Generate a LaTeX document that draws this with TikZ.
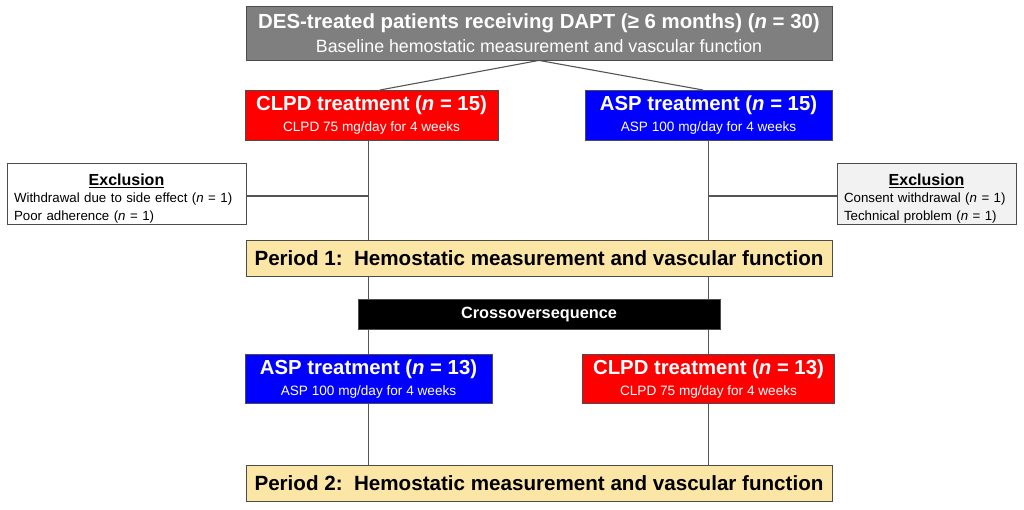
\documentclass[tikz,border=0pt]{standalone}
\usepackage{fontspec}
\setmainfont{Liberation Sans}
\usetikzlibrary{backgrounds}
\definecolor{boxgray}{HTML}{7F7F7F}
\definecolor{pyellow}{HTML}{FCE6A6}
\definecolor{lgray}{HTML}{F2F2F2}
\definecolor{lineg}{HTML}{555555}
\newcommand{\fs}[1]{\fontsize{#1}{#1}\selectfont}
\newcommand{\exhead}{\makebox[\linewidth]{\rule{0pt}{21.5pt}\fs{16}\bfseries\underline{Exclusion}}}
\tikzset{
  box/.style={draw=black!70, line width=0.8pt, inner sep=0pt, align=center},
  exbox/.style={draw=black!70, line width=0.8pt, inner xsep=7pt, inner ysep=0pt, align=left,
     font=\fontsize{13.3}{17.5}\selectfont},
  conn/.style={draw=lineg, line width=1.1pt},
}
\begin{document}
\begin{tikzpicture}[x=1pt,y=-1pt]
\useasboundingbox (0,0) rectangle (1024,509);
% top
\node[box, fill=boxgray, text=white, minimum width=586, minimum height=54] (top) at (539,33)
  {{\fs{20.4}\bfseries DES-treated patients receiving DAPT (≥ 6 months) (\textit{n} = 30)}\\[6pt]
   {\fs{17.8}Baseline hemostatic measurement and vascular function}};
\node[box, fill=red, text=white, minimum width=253, minimum height=50] (clpdA) at (371.5,115)
  {{\fs{20.3}\bfseries CLPD treatment (\textit{n} = 15)}\\[6pt]{\fs{13.6}CLPD 75 mg/day for 4 weeks}};
\node[box, fill=blue, text=white, minimum width=247, minimum height=50] (aspA) at (708.5,115)
  {{\fs{20.3}\bfseries ASP treatment (\textit{n} = 15)}\\[6pt]{\fs{13.6}ASP 100 mg/day for 4 weeks}};
\node[exbox, fill=white, text width=225, minimum height=61] (exL) at (126.5,193.5)
  {\exhead\\[0pt]
   Withdrawal due to side effect (\textit{n} = 1)\\
   Poor adherence (\textit{n} = 1)};
\node[exbox, fill=lgray, text width=165, minimum height=61] (exR) at (926.5,193.5)
  {\exhead\\[0pt]
   Consent withdrawal (\textit{n} = 1)\\
   Technical problem (\textit{n} = 1)};
\node[box, fill=pyellow, minimum width=586, minimum height=36] (p1) at (539,258)
  {\fs{20.6}\bfseries Period 1:\ \ Hemostatic measurement and vascular function};
\node[box, fill=black, text=white, minimum width=362, minimum height=30] (cross) at (539,314)
  {\fs{16.3}\bfseries Crossoversequence};
\node[box, fill=blue, text=white, minimum width=247, minimum height=49] (aspB) at (368.5,379)
  {{\fs{20.3}\bfseries ASP treatment (\textit{n} = 13)}\\[6pt]{\fs{13.6}ASP 100 mg/day for 4 weeks}};
\node[box, fill=red, text=white, minimum width=252, minimum height=49] (clpdB) at (708.5,379)
  {{\fs{20.3}\bfseries CLPD treatment (\textit{n} = 13)}\\[6pt]{\fs{13.6}CLPD 75 mg/day for 4 weeks}};
\node[box, fill=pyellow, minimum width=586, minimum height=36] (p2) at (539,483)
  {\fs{20.6}\bfseries Period 2:\ \ Hemostatic measurement and vascular function};
\coordinate (vL) at (368.5,0);
\coordinate (vR) at (708.5,0);
\coordinate (dL) at (380,90);
\coordinate (dR) at (703,90);
\begin{scope}[on background layer]
\draw[conn] (top.south) -- (dL);
\draw[conn] (top.south) -- (dR);
\draw[conn] (clpdA.south -| vL) -- (p1.north -| vL);
\draw[conn] (aspA.south -| vR) -- (p1.north -| vR);
\draw[conn] ([yshift=-2.5]exL.east) -- ([yshift=-2.5]exL.east -| vL);
\draw[conn] ([yshift=-2.5]exR.west) -- ([yshift=-2.5]exR.west -| vR);
\draw[conn] (p1.south -| vL) -- (aspB.north -| vL);
\draw[conn] (p1.south -| vR) -- (clpdB.north -| vR);
\draw[conn] (aspB.south -| vL) -- (p2.north -| vL);
\draw[conn] (clpdB.south -| vR) -- (p2.north -| vR);
\end{scope}
\end{tikzpicture}
\end{document}
